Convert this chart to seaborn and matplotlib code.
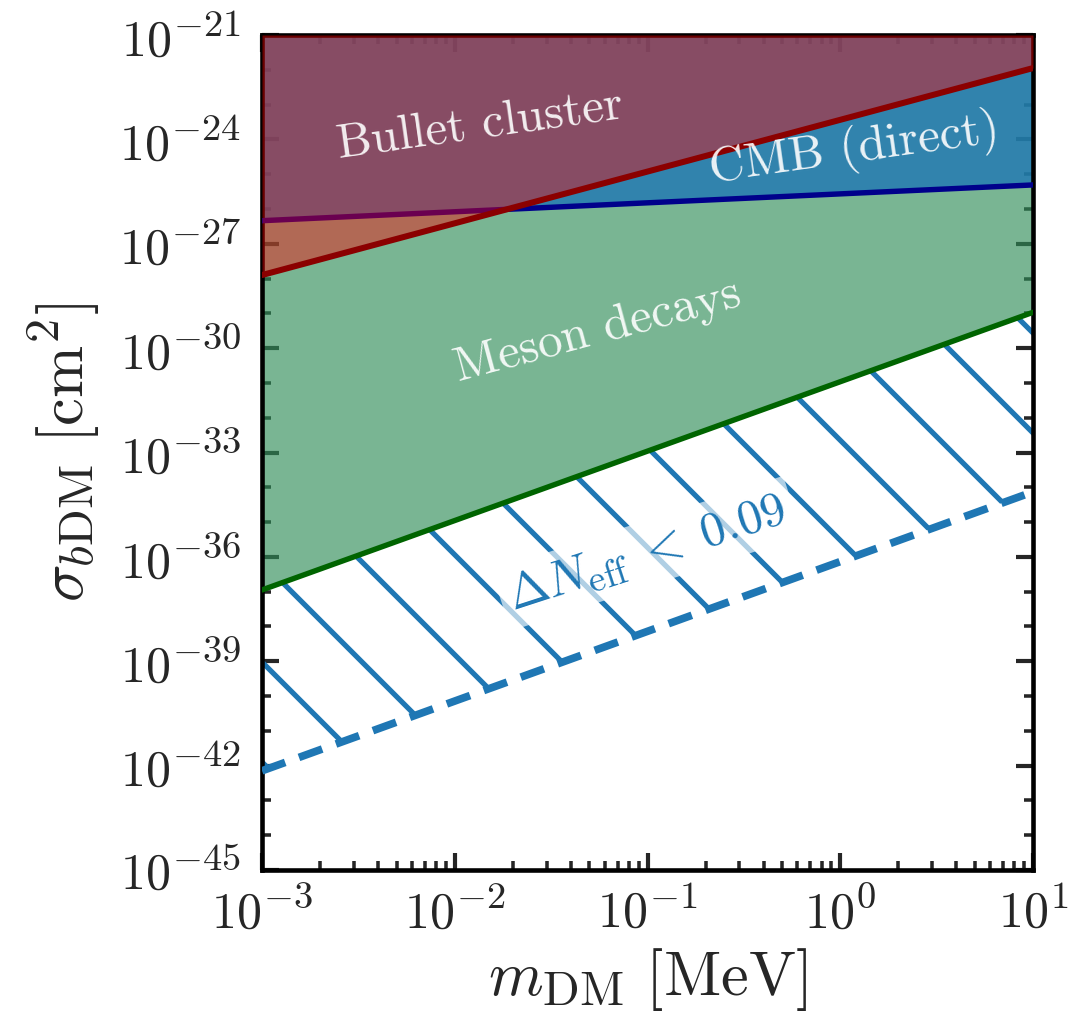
import numpy as np
import matplotlib
matplotlib.use("Agg")
import matplotlib.pyplot as plt
import matplotlib.ticker as mticker
import seaborn as sns

try:  # LaTeX-like (optical size) wider scripts
    import matplotlib._mathtext as _mt
    _mt.SHRINK_FACTOR = 0.77
except Exception:
    pass

# ---------------- data ----------------
mass_mev = [1e-3, 1e1]                      # x-range endpoints of every bound
bullet_sigma = [1.26e-28, 1.12e-22]         # Bullet cluster bound
cmb_sigma = [4.6e-27, 4.9e-26]              # CMB (direct) bound
meson_sigma = [1.12e-37, 1.07e-29]          # Meson decays bound
neff_sigma = [7.1e-43, 7.4e-35]             # Delta N_eff < 0.09 bound

x_limits = [1e-3, 1e1]
y_limits = [1e-45, 1e-21]
x_major_exp = [-3, -2, -1, 0, 1]
y_major_exp = [-45, -42, -39, -36, -33, -30, -27, -24, -21]
y_minor_exp = list(range(-45, -20))

label_bullet = "Bullet cluster"
label_cmb = "CMB (direct)"
label_meson = "Meson decays"
label_neff = r"$\Delta N_{\rm eff}\;<\;0.09$"

# ---------------- style ----------------
sns.set_style("ticks")
plt.rcParams["font.family"] = ["cmr10", "DejaVu Serif"]
plt.rcParams["mathtext.fontset"] = "cm"
plt.rcParams["axes.formatter.use_mathtext"] = True
plt.rcParams["axes.unicode_minus"] = False
plt.rcParams["hatch.linewidth"] = 1.25
plt.rcParams["axes.linewidth"] = 1.1

DPI = 300
fig = plt.figure(figsize=(1074 / DPI, 1015 / DPI), dpi=DPI)
ax = fig.add_axes([262 / 1074, 1 - 870 / 1015, 771 / 1074, 835 / 1015])
ax.set_xscale("log")
ax.set_yscale("log")
ax.set_xlim(*x_limits)
ax.set_ylim(*y_limits)

top = [y_limits[1]] * len(mass_mev)

# Meson decays region (green)
ax.fill_between(mass_mev, meson_sigma, top, color="seagreen", alpha=0.64,
                linewidth=0, zorder=1)
# Delta N_eff hatched region
ax.fill_between(mass_mev, neff_sigma, meson_sigma, facecolor="none",
                edgecolor="#1f77b4", hatch="\\", linewidth=0, zorder=1.5)
# CMB region (blue)
ax.fill_between(mass_mev, cmb_sigma, top, color="#1f77b4", alpha=0.8,
                linewidth=0, zorder=2)
sns.lineplot(x=mass_mev, y=cmb_sigma, ax=ax, color="darkblue", lw=1.3,
             zorder=3)
sns.lineplot(x=mass_mev, y=meson_sigma, ax=ax, color="darkgreen", lw=1.3,
             zorder=3)
# Bullet cluster region (red, on top)
ax.fill_between(mass_mev, bullet_sigma, top, color="red", alpha=0.42,
                linewidth=0, zorder=4)
sns.lineplot(x=mass_mev, y=bullet_sigma, ax=ax, color="darkred", lw=1.45,
             zorder=5)
# Delta N_eff dashed bound
sns.lineplot(x=mass_mev, y=neff_sigma, ax=ax, color="#1f77b4", lw=1.85,
             linestyle=(0, (3.2, 1.9)), zorder=5)

# ---------------- labels in the plot ----------------
ax.text(0.0135, 10 ** -23.59, label_bullet, rotation=8, color="white",
        alpha=0.9, fontsize=11.8, ha="center", va="center", zorder=6)
ax.text(1.19, 10 ** -24.30, label_cmb, rotation=8, color="white",
        alpha=0.9, fontsize=11.8, ha="center", va="center", zorder=6)
ax.text(0.0553, 10 ** -29.51, label_meson, rotation=15, color="white",
        alpha=0.9, fontsize=11.8, ha="center", va="center", zorder=6)
ax.text(0.0994, 10 ** -35.9, label_neff, rotation=18, color="#1f77b4",
        fontsize=11.8, ha="center", va="center", zorder=6,
        bbox=dict(facecolor="white", alpha=0.65, edgecolor="none", pad=2))

# ---------------- axes / ticks ----------------
ax.set_xticks([10.0 ** e for e in x_major_exp],
              [rf"$10^{{{e}}}$" for e in x_major_exp])
ax.xaxis.set_minor_locator(mticker.LogLocator(base=10, subs=np.arange(2, 10),
                                              numticks=20))
ax.xaxis.set_minor_formatter(mticker.NullFormatter())
ax.set_yticks([10.0 ** e for e in y_major_exp],
              [rf"$10^{{{e}}}$" for e in y_major_exp])
ax.set_yticks([10.0 ** e for e in y_minor_exp if e not in y_major_exp],
              minor=True)
ax.yaxis.set_minor_formatter(mticker.NullFormatter())
ax.set_xlim(*x_limits)
ax.set_ylim(*y_limits)

ax.tick_params(which="both", direction="in", top=True, right=True)
ax.tick_params(which="major", length=4.0, width=1.0, labelsize=12, pad=5)
ax.tick_params(which="minor", length=2.2, width=0.85)
ax.tick_params(axis="x", which="major", pad=4)

ax.set_xlabel(r"$m_{\rm DM}\ [\mathrm{MeV}]$", fontsize=15, labelpad=2)
ax.set_ylabel(r"$\sigma_{b{\rm DM}}\ [\mathrm{cm}^2]$", fontsize=15,
              labelpad=4)
for s in ax.spines.values():
    s.set_color("black")
    s.set_linewidth(1.1)

fig.savefig("out.png", dpi=DPI)
